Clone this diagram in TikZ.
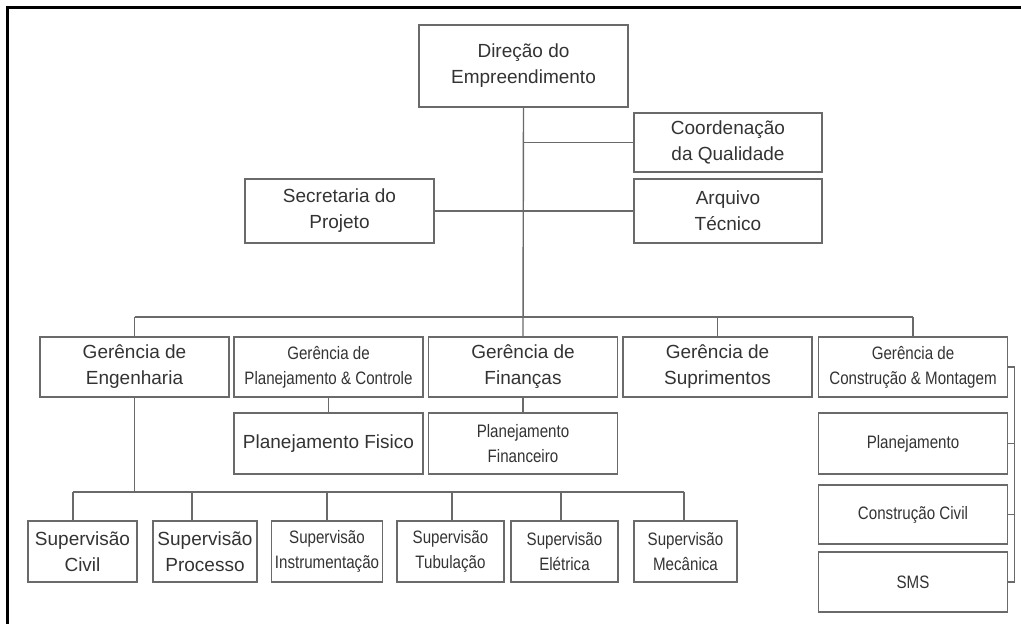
\documentclass[tikz,border=0pt]{standalone}
\usepackage{fontspec}
\setmainfont{Liberation Sans}
\newfontfamily\narrowsf[FakeStretch=0.84]{Liberation Sans}
\usepackage{tikz}
\usetikzlibrary{calc, positioning}

\definecolor{boxgray}{HTML}{6A6A6A}
\definecolor{inkgray}{HTML}{333333}

\tikzset{
    unit/.style={draw=boxgray, line width=1.4pt, outer sep=0pt, align=center, text=inkgray,
        minimum width=189pt, minimum height=60pt, font=\fontsize{19}{26}\selectfont},
    thin unit/.style={unit, font=\narrowsf\fontsize{18}{25}\selectfont},
    leaf/.style={unit, minimum width=106pt, minimum height=61pt},
    thin leaf/.style={thin unit, minimum width=106pt, minimum height=61pt},
    link/.style={draw=boxgray, line width=1.4pt}
}

\begin{document}
\begin{tikzpicture}[x=1pt, y=-1pt]
                            \useasboundingbox (0, 0) rectangle (1021, 624);
                            \draw[line width=3pt] (7, 630) -- (7, 7) -- (1030, 7);

                            \node[unit, minimum width=209pt, minimum height=82pt] (dir) at (523.5, 66) {Direção do\\Empreendimento};
                            \node[unit, minimum width=188pt, minimum height=59pt] (coord) at (728, 142.5) {Coordenação\\da Qualidade};
                            \node[unit, minimum width=188pt, minimum height=64pt] (arq) at (728, 211) {Arquivo\\Técnico};
                            \node[unit, minimum height=64pt] (sec) at (339.5, 211) {Secretaria do\\Projeto};

                            \node[unit] (eng) at (134.5, 367) {Gerência de\\Engenharia};
                            \node[thin unit] (pc) at (328.5, 367) {Gerência de\\Planejamento \& Controle};
                            \node[unit] (fin) at (523, 367) {Gerência de\\Finanças};
                            \node[unit] (sup) at (717.5, 367) {Gerência de\\Suprimentos};
                            \node[thin unit] (cm) at (913, 367) {Gerência de\\Construção \& Montagem};

                            \node[unit, minimum height=61pt] (pf) at (328.5, 443.5) {Planejamento Fisico};
                            \node[thin unit, minimum height=61pt] (pfin) at (523, 443.5) {Planejamento\\Financeiro};

                            \node[thin unit, minimum height=61pt] (plan) at (913, 443.5) {Planejamento};
                            \node[thin unit, minimum height=59pt] (cc) at (913, 514.5) {Construção Civil};
                            \node[thin unit] (sms) at (913, 582) {SMS};

                            \node[leaf, minimum width=109pt] (civ) at (82.5, 551.5) {Supervisão\\Civil};
                            \node[leaf, minimum width=104pt] (proc) at (205, 551.5) {Supervisão\\Processo};
                            \node[thin leaf] (inst) at (327, 551.5) {Supervisão\\Instrumentação};
                            \node[thin leaf, minimum width=107pt] (tub) at (450.5, 551.5) {Supervisão\\Tubulação};
                            \node[thin leaf, minimum width=107pt] (ele) at (564.5, 551.5) {Supervisão\\Elétrica};
                            \node[thin leaf, minimum width=103pt] (mec) at (685.5, 551.5) {Supervisão\\Mecânica};

                            % top of the chart
                            \draw[link] (dir.south) -- (fin.north);
                            \draw[link] (dir.south |- coord.west) -- (coord.west);
                            \draw[link] (sec.east) -- (arq.west);

                            % managers
                            \draw[link] (eng.north |- 0, 317) -- (cm.north |- 0, 317);
                            \foreach \n in {eng, sup, cm}
                                \draw[link] (\n.north |- 0, 317) -- (\n.north);

                            \draw[link] (pc.south) -- (pf.north);
                            \draw[link] (fin.south) -- (pfin.north);

                            % supervisors
                            \draw[link] (eng.south) -- (eng.south |- 0, 492);
                            \draw[link] (73, 492) -- (684, 492);
                            \foreach \n/\x in {civ/73, proc/192, inst/327, tub/452, ele/561, mec/684}
                                \draw[link] (\x, 492) -- (\n.north -| \x, 0);

                            % construction side
                            \draw[link] (cm.east) -| ($(sms.east) + (7, 0)$) -- (sms.east);
                            \draw[link] (plan.east) -- ++(7, 0);
                            \draw[link] (cc.east) -- ++(7, 0);
                        \end{tikzpicture}
\end{document}
